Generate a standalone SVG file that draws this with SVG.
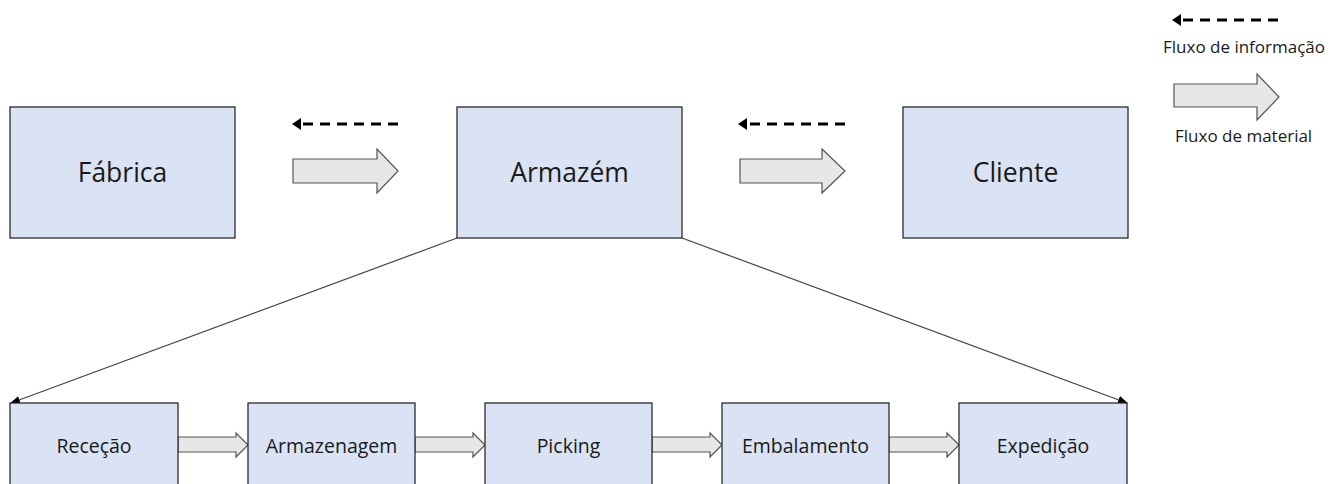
<svg xmlns="http://www.w3.org/2000/svg" width="1335" height="484" viewBox="0 0 1335 484">
<style>
.box{fill:#dae3f3;stroke:#2b2b2b;stroke-width:1.3}
.big{font-family:"Open Sans",sans-serif;font-size:26.5px;fill:#1a1a1a;text-anchor:middle}
.small{font-family:"Open Sans",sans-serif;font-size:19.5px;fill:#1a1a1a;text-anchor:middle}
.leg{font-family:"Open Sans",sans-serif;font-size:17px;fill:#1a1a1a}
.blk{fill:#e7e7e7;stroke:#555;stroke-width:1.2}
.dash{stroke:#000;stroke-width:3;stroke-dasharray:10,7;fill:none}
.ln{stroke:#444;stroke-width:1.2;fill:none}
</style>
<defs>
<marker id="ah" markerWidth="10" markerHeight="8" refX="9" refY="4" orient="auto" markerUnits="userSpaceOnUse">
<path d="M0,0 L10,4 L0,8 Z" fill="#000"/>
</marker>
</defs>
<g id="connectors">
<line class="ln" x1="457" y1="238" x2="11" y2="403" marker-end="url(#ah)"/>
<line class="ln" x1="682" y1="238" x2="1127" y2="403" marker-end="url(#ah)"/>
<path class="dash" d="M398,124 H301"/><path d="M301,118 L292,124 L301,130 Z" fill="#000"/>
<path class="blk" d="M293,159 H377 V149 L398,171 L377,193 V183 H293 Z"/>
<path class="dash" d="M845,124 H747"/><path d="M747,118 L738,124 L747,130 Z" fill="#000"/>
<path class="blk" d="M740,159 H822 V149 L845,171 L822,193 V183 H740 Z"/>
<path class="blk" d="M178,437 H236 V433 L248,445 L236,457 V452 H178 Z"/>
<path class="blk" d="M415,437 H473 V433 L485,445 L473,457 V452 H415 Z"/>
<path class="blk" d="M652,437 H710 V433 L722,445 L710,457 V452 H652 Z"/>
<path class="blk" d="M889,437 H947 V433 L959,445 L947,457 V452 H889 Z"/>
</g>
<g id="fabrica"><rect class="box" x="10" y="107" width="225" height="131"/><text class="big" x="122.5" y="182">Fábrica</text></g>
<g id="armazem"><rect class="box" x="457" y="107" width="225" height="131"/><text class="big" x="569.5" y="182">Armazém</text></g>
<g id="cliente"><rect class="box" x="903" y="107" width="225" height="131"/><text class="big" x="1015.5" y="182">Cliente</text></g>
<g id="rececao"><rect class="box" x="10" y="403" width="168" height="90"/><text class="small" x="94" y="453">Receção</text></g>
<g id="armazenagem"><rect class="box" x="248" y="403" width="167" height="90"/><text class="small" x="331.5" y="453">Armazenagem</text></g>
<g id="picking"><rect class="box" x="485" y="403" width="167" height="90"/><text class="small" x="568.5" y="453">Picking</text></g>
<g id="embalamento"><rect class="box" x="722" y="403" width="167" height="90"/><text class="small" x="805.5" y="453">Embalamento</text></g>
<g id="expedicao"><rect class="box" x="959" y="403" width="168" height="90"/><text class="small" x="1043" y="453">Expedição</text></g>
<g id="legend">
<path class="dash" d="M1278,20 H1181"/><path d="M1181,14 L1172,20 L1181,26 Z" fill="#000"/>
<text class="leg" x="1163" y="53">Fluxo de informação</text>
<path class="blk" d="M1174,84 H1257 V74 L1279,97 L1257,120 V107 H1174 Z"/>
<text class="leg" x="1175" y="142">Fluxo de material</text>
</g>
</svg>
